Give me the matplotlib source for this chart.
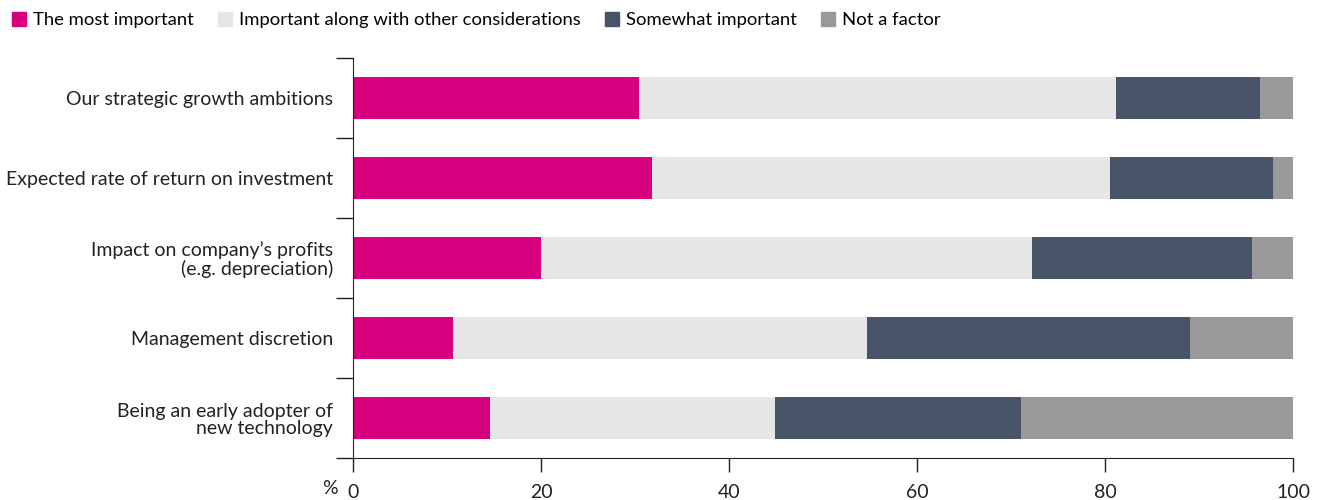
import matplotlib
matplotlib.use("Agg")
import matplotlib.pyplot as plt
import numpy as np
from matplotlib.patches import Patch

plt.rcParams['font.family'] = ['Lato', 'DejaVu Sans']

categories = [
    "Our strategic growth ambitions",
    "Expected rate of return on investment",
    "Impact on company\u2019s profits\n(e.g. depreciation)",
    "Management discretion",
    "Being an early adopter of\nnew technology",
]
series_names = [
    "The most important",
    "Important along with other considerations",
    "Somewhat important",
    "Not a factor",
]
most_important = [30.4, 31.8, 20.0, 10.6, 14.6]
important_other = [50.8, 48.7, 52.2, 44.1, 30.3]
somewhat = [15.3, 17.4, 23.4, 34.3, 26.2]
not_factor = [3.5, 2.1, 4.4, 11.0, 28.9]
colors = ["#d6007f", "#e6e6e6", "#475467", "#999999"]

fig = plt.figure(figsize=(13.26, 5), dpi=100)
ax = fig.add_axes([353 / 1326, 1 - 458 / 500, 940 / 1326, 400 / 500])

y = np.arange(len(categories))
left = np.zeros(len(categories))
for vals, c, name in zip([most_important, important_other, somewhat, not_factor], colors, series_names):
    ax.barh(y, vals, left=left, height=0.52, color=c, label=name)
    left += np.array(vals)

ax.set_ylim(len(categories) - 0.5, -0.5)
ax.set_xlim(0, 100)
ax.set_xticks([0, 20, 40, 60, 80, 100])
ax.tick_params(axis='x', length=10, width=1, labelsize=14, pad=9, colors='#222222')

# category labels without ticks, ticks at the boundaries
ax.set_yticks(y)
ax.set_yticklabels(categories, fontsize=14, color='#222222', linespacing=1.05)
ax.tick_params(axis='y', which='major', length=0, pad=14.5)
ax.set_yticks(np.arange(-0.5, len(categories)), minor=True)
ax.tick_params(axis='y', which='minor', length=12, width=1, color='#222222')

for s in ['top', 'right']:
    ax.spines[s].set_visible(False)
ax.spines['left'].set_color('#222222')
ax.spines['bottom'].set_color('#222222')

ax.text(-1.6, -0.055, "%", transform=ax.get_xaxis_transform(), ha='right', va='top',
        fontsize=14, color='#222222')

handles = [Patch(color=c) for c in colors]
fig.legend(handles, series_names, loc='upper left', bbox_to_anchor=(0.0, 1.0), ncol=4,
           frameon=False, fontsize=13.3, handlelength=0.75, handleheight=0.75,
           handletextpad=0.4, columnspacing=1.3, borderaxespad=0.25)

fig.savefig("out.png", dpi=100)
